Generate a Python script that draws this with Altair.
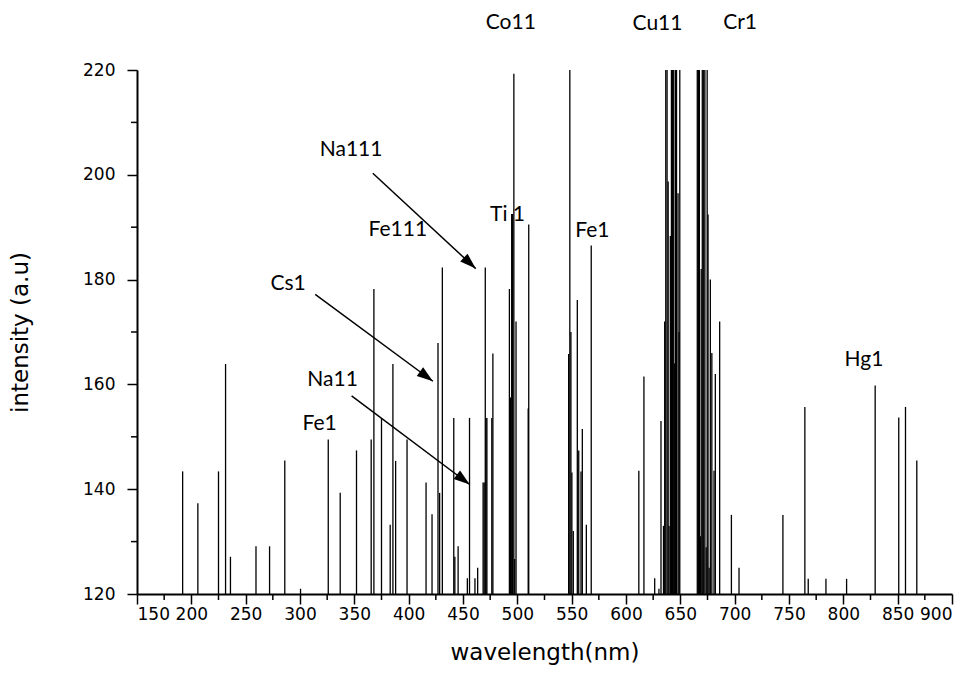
import math
import altair as alt
import pandas as pd

# ---- spectral lines (wavelength nm, intensity a.u.) ----
wavelength = [
    192, 206, 225, 231.5, 236, 259.5, 272, 286, 300.5, 326,
    337, 352, 365.5, 368, 375, 383, 385.5, 388, 398.5, 416,
    421.5, 427, 428.5, 431, 441.5, 442.5, 445.5, 454, 456, 461,
    463.5, 468.5, 469.5, 470.5, 471.2, 472, 476.5, 477.5,
    492.7, 493.6, 494.8, 495.7, 496.8, 497.6, 498.8, 510, 510.5,
    547.2, 548.3, 549.3, 550.2, 551.5, 555.2, 556.5, 558.6, 559.8, 563.5, 568,
    611.8, 616.5, 626.4, 630.3, 632.2, 634.5, 635.6, 636.6, 637.8, 638.8,
    639.6, 640.8, 641.8, 642.9, 643.9, 644.8, 645.5, 646.5, 647.9, 648.8, 649.5,
    665.6, 666.6, 667.5, 668.4, 669.2, 670.2, 671.5, 672.6, 673.8, 674.7,
    675.5, 676.5, 677.6, 679, 681, 682.2, 686.2,
    697, 704, 744.4, 764.6, 767.7, 784, 803, 829.3, 851, 857.2, 867.6,
]
intensity = [
    143.4, 137.3, 143.4, 163.9, 127.1, 129.1, 129.1, 145.5, 121, 149.5,
    139.3, 147.4, 149.5, 178.2, 153.6, 133.2, 163.9, 145.4, 149.5, 141.3,
    135.2, 167.9, 139.3, 182.3, 153.6, 127.1, 129.1, 123, 153.6, 123,
    125, 141.3, 141.3, 182.3, 153.6, 153.6, 153.6, 165.9,
    178.2, 157.5, 192.5, 192.5, 219.3, 126.7, 172, 155.4, 190.5,
    165.8, 240, 170, 143.2, 132, 176.1, 147.4, 143.4, 151.5, 133.2, 186.5,
    143.5, 161.5, 123, 121, 153, 133, 172, 240, 240, 198.7,
    133, 188.3, 240, 240, 240, 164, 240, 240, 196.5, 170, 240,
    240, 240, 240, 131, 182, 240, 240, 240, 128.9, 240,
    192.4, 125, 180, 166, 143.5, 162, 172,
    135.1, 125, 135.1, 155.7, 122.9, 122.9, 122.9, 159.8, 153.7, 155.7, 145.5,
]

# ---- annotations ----
labels = ["Co11", "Cu11", "Cr1", "Na111", "Fe111", "Ti 1", "Fe1", "Cs1", "Na11", "Fe1", "Hg1"]
label_x = [494, 629, 705, 347, 390, 491, 569, 289, 330, 318, 819]
label_y = [228.9, 228.7, 228.9, 204.7, 189.4, 192.4, 189.3, 179.2, 160.8, 152.4, 164.6]

arrow_x1 = [367, 314, 347.5]
arrow_y1 = [200.3, 177.2, 157.8]
arrow_x2 = [461.7, 422.3, 456.2]
arrow_y2 = [182.1, 160.6, 140.9]

x_major = list(range(150, 901, 50))
x_minor = list(range(175, 900, 50))
y_major = [120, 140, 160, 180, 200, 220]
y_minor = [130, 150, 170, 190, 210]

W, H = 815, 524
XMIN, XMAX, YMIN, YMAX = 150, 900, 120, 220

spec = pd.DataFrame({"wl": wavelength, "inten": intensity, "base": [YMIN] * len(wavelength)})
lab = pd.DataFrame({"t": labels, "x": label_x, "y": label_y})

angles = []
for a, b, c, d in zip(arrow_x1, arrow_y1, arrow_x2, arrow_y2):
    dx = (c - a) * W / (XMAX - XMIN)
    dy_down = (b - d) * H / (YMAX - YMIN)
    angles.append(math.degrees(math.atan2(dx, -dy_down)))
arr = pd.DataFrame({"x1": arrow_x1, "y1": arrow_y1, "x2": arrow_x2, "y2": arrow_y2, "ang": angles})

xs = alt.Scale(domain=[XMIN, XMAX], nice=False, zero=False)
ys = alt.Scale(domain=[YMIN, YMAX], nice=False, zero=False)

xaxis = alt.Axis(values=x_major, title="wavelength(nm)", labelFontSize=17, titleFontSize=23,
                 titlePadding=19, labelPadding=2, format="d", labelOverlap=False)
yaxis = alt.Axis(values=y_major, title="intensity (a.u)", labelFontSize=17, titleFontSize=23,
                 titlePadding=50, labelPadding=12, format="d", labelOverlap=False)

spikes = alt.Chart(spec).mark_rule(color="black", strokeWidth=1.3, clip=True).encode(
    x=alt.X("wl:Q", scale=xs, axis=xaxis),
    y=alt.Y("base:Q", scale=ys, axis=yaxis),
    y2="inten:Q",
)

xminor = alt.Chart(pd.DataFrame({"v": x_minor})).mark_rule(color="black", strokeWidth=1.5).encode(
    x=alt.X("v:Q", scale=xs), y=alt.value(H), y2=alt.value(H + 6)
)
yminor = alt.Chart(pd.DataFrame({"v": y_minor})).mark_rule(color="black", strokeWidth=1.5).encode(
    y=alt.Y("v:Q", scale=ys), x=alt.value(-6), x2=alt.value(0)
)

texts = alt.Chart(lab).mark_text(font="Lato", fontSize=21, color="black", align="center",
                                 baseline="middle").encode(
    x=alt.X("x:Q", scale=xs), y=alt.Y("y:Q", scale=ys), text="t:N"
)

lines = alt.Chart(arr).mark_rule(color="black", strokeWidth=1.5).encode(
    x=alt.X("x1:Q", scale=xs), y=alt.Y("y1:Q", scale=ys), x2="x2:Q", y2="y2:Q"
)
heads = alt.Chart(arr).mark_point(shape="M0,0L-0.4,1.2L0.4,1.2Z", filled=True, color="black",
                                  opacity=1, size=720).encode(
    x=alt.X("x2:Q", scale=xs), y=alt.Y("y2:Q", scale=ys), angle=alt.Angle("ang:Q", scale=None)
)

chart = alt.layer(spikes, xminor, yminor, lines, heads, texts).properties(
    width=W, height=H,
    autosize=alt.AutoSizeParams(type="none"),
    padding={"left": 129, "top": 62, "right": 10, "bottom": 72},
    background="white",
).configure_view(stroke=None).configure_axis(
    grid=False, domainColor="black", domainWidth=2, tickColor="black", tickWidth=1.5, tickSize=10,
    labelColor="black", titleColor="black", labelFont="DejaVu Sans", titleFont="DejaVu Sans",
    titleFontWeight="normal",
)

chart.save("out.html", embed_options={"renderer": "svg", "actions": False})
